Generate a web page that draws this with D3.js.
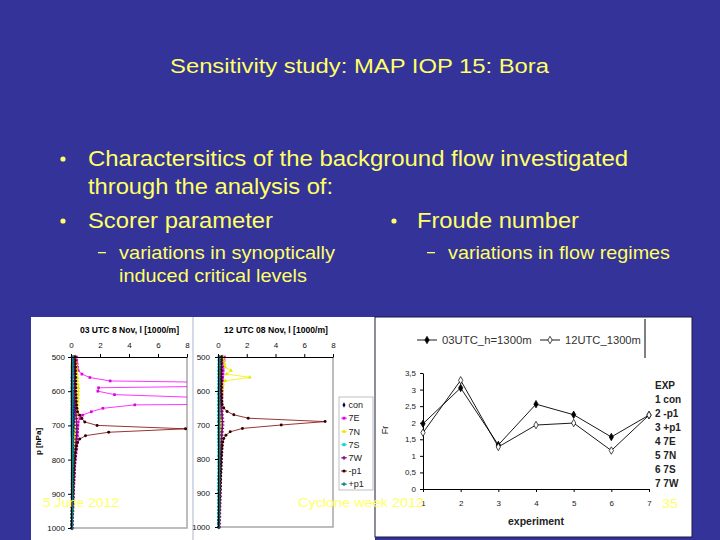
<!DOCTYPE html>
<html>
<head>
<meta charset="utf-8">
<script src="https://cdn.jsdelivr.net/npm/d3@7"></script>
<style>
  body { margin: 0; background: #333399; }
  svg { display: block; font-family: Arial, "Liberation Sans", sans-serif; }
</style>
</head>
<body>
<svg id="slide" width="720" height="540"></svg>
<script>
// pressure levels (hPa) shared by every profile series
const pLevels = [500, 510, 520, 530, 540, 550, 560, 570, 580, 590,
  600, 610, 620, 630, 640, 650, 660, 670, 680, 690,
  700, 710, 720, 730, 740, 750, 760, 770, 780, 790,
  800, 810, 820, 830, 840, 850, 860, 870, 880, 890,
  900, 910, 920, 930, 940, 950, 960, 970, 980, 990, 1000];

const seriesNames = ["con", "7E", "7N", "7S", "7W", "-p1", "+p1"];

// 03 UTC 8 Nov, l [1000/m]
const am_con = [0.28, 0.27, 0.26, 0.26, 0.25, 0.25, 0.24, 0.24, 0.23, 0.23,
  0.22, 0.22, 0.22, 0.21, 0.21, 0.21, 0.2, 0.2, 0.2, 0.2,
  0.19, 0.19, 0.19, 0.18, 0.18, 0.18, 0.17, 0.17, 0.17, 0.16,
  0.16, 0.16, 0.15, 0.15, 0.15, 0.14, 0.14, 0.13, 0.13, 0.12,
  0.12, 0.11, 0.11, 0.1, 0.1, 0.09, 0.09, 0.08, 0.08, 0.07, 0.07];
const am_7E = [0.38, 0.4, 0.42, 0.45, 0.5, 0.75, 1.3, 2.7, 20, 1.9,
  1.85, 3.0, 10, 40, 4.4, 2.2, 1.4, 0.8, 0.6, 0.5,
  0.48, 0.46, 0.45, 0.44, 0.43, 0.42, 0.4, 0.38, 0.35, 0.32,
  0.3, 0.28, 0.26, 0.25, 0.24, 0.22, 0.21, 0.2, 0.19, 0.18,
  0.17, 0.16, 0.15, 0.14, 0.13, 0.12, 0.11, 0.1, 0.09, 0.08, 0.08];
const am_7N = [0.3, 0.32, 0.35, 0.38, 0.4, 0.42, 0.45, 0.45, 0.48, 0.5,
  0.5, 0.5, 0.48, 0.48, 0.46, 0.45, 0.44, 0.42, 0.4, 0.38,
  0.36, 0.34, 0.32, 0.3, 0.28, 0.27, 0.26, 0.25, 0.24, 0.23,
  0.22, 0.21, 0.2, 0.2, 0.19, 0.18, 0.17, 0.16, 0.15, 0.14,
  0.13, 0.12, 0.12, 0.11, 0.1, 0.1, 0.09, 0.08, 0.08, 0.07, 0.07];
const am_7S = [0.08, 0.08, 0.07, 0.07, 0.07, 0.06, 0.06, 0.06, 0.06, 0.05,
  0.05, 0.05, 0.05, 0.05, 0.05, 0.05, 0.05, 0.05, 0.05, 0.05,
  0.05, 0.05, 0.05, 0.05, 0.06, 0.06, 0.06, 0.06, 0.06, 0.06,
  0.07, 0.07, 0.07, 0.07, 0.07, 0.07, 0.07, 0.07, 0.07, 0.07,
  0.07, 0.07, 0.07, 0.06, 0.06, 0.06, 0.06, 0.06, 0.06, 0.06, 0.06];
const am_7W = [0.2, 0.2, 0.21, 0.21, 0.22, 0.22, 0.23, 0.23, 0.24, 0.24,
  0.25, 0.25, 0.26, 0.27, 0.28, 0.3, 0.32, 0.34, 0.36, 0.38,
  0.4, 0.4, 0.4, 0.38, 0.36, 0.34, 0.32, 0.3, 0.28, 0.26,
  0.24, 0.22, 0.21, 0.2, 0.19, 0.18, 0.17, 0.16, 0.15, 0.14,
  0.13, 0.12, 0.11, 0.11, 0.1, 0.1, 0.09, 0.09, 0.08, 0.08, 0.07];
const am_m1 = [0.3, 0.3, 0.3, 0.31, 0.31, 0.31, 0.32, 0.32, 0.32, 0.33,
  0.33, 0.34, 0.35, 0.36, 0.38, 0.4, 0.45, 0.6, 0.75, 0.95,
  1.8, 7.9, 2.6, 1.0, 0.6, 0.45, 0.38, 0.34, 0.3, 0.28,
  0.26, 0.24, 0.22, 0.21, 0.2, 0.19, 0.18, 0.17, 0.16, 0.15,
  0.14, 0.13, 0.12, 0.11, 0.1, 0.09, 0.08, 0.07, 0.06, 0.05, 0.05];
const am_p1 = [0.12, 0.12, 0.12, 0.11, 0.11, 0.11, 0.1, 0.1, 0.1, 0.1,
  0.1, 0.1, 0.1, 0.1, 0.1, 0.1, 0.1, 0.1, 0.1, 0.1,
  0.1, 0.11, 0.11, 0.11, 0.12, 0.12, 0.12, 0.12, 0.12, 0.12,
  0.12, 0.12, 0.12, 0.11, 0.11, 0.11, 0.1, 0.1, 0.1, 0.1,
  0.09, 0.09, 0.09, 0.08, 0.08, 0.08, 0.07, 0.07, 0.07, 0.06, 0.06];

// 12 UTC 08 Nov, l [1000/m]
const pm_con = [0.3, 0.28, 0.27, 0.26, 0.25, 0.24, 0.23, 0.22, 0.22, 0.21,
  0.21, 0.2, 0.2, 0.2, 0.19, 0.19, 0.19, 0.18, 0.18, 0.18,
  0.17, 0.17, 0.17, 0.16, 0.16, 0.16, 0.15, 0.15, 0.15, 0.14,
  0.14, 0.14, 0.13, 0.13, 0.13, 0.12, 0.12, 0.12, 0.11, 0.11,
  0.1, 0.1, 0.09, 0.09, 0.08, 0.08, 0.07, 0.07, 0.06, 0.06, 0.05];
const pm_7E = [0.45, 0.42, 0.4, 0.38, 0.36, 0.35, 0.33, 0.32, 0.3, 0.3,
  0.29, 0.28, 0.28, 0.27, 0.27, 0.26, 0.26, 0.25, 0.25, 0.25,
  0.24, 0.24, 0.23, 0.23, 0.22, 0.22, 0.21, 0.21, 0.2, 0.2,
  0.19, 0.19, 0.18, 0.18, 0.17, 0.17, 0.16, 0.16, 0.15, 0.15,
  0.14, 0.14, 0.13, 0.12, 0.12, 0.11, 0.1, 0.1, 0.09, 0.08, 0.08];
const pm_7N = [0.35, 0.4, 0.45, 0.5, 0.9, 0.6, 2.2, 0.5, 0.35, 0.3,
  0.28, 0.26, 0.25, 0.24, 0.23, 0.22, 0.22, 0.21, 0.2, 0.2,
  0.19, 0.19, 0.18, 0.18, 0.17, 0.17, 0.16, 0.16, 0.15, 0.15,
  0.14, 0.14, 0.13, 0.13, 0.12, 0.12, 0.11, 0.11, 0.1, 0.1,
  0.09, 0.09, 0.08, 0.08, 0.07, 0.07, 0.06, 0.06, 0.05, 0.05, 0.05];
const pm_7S = [0.07, 0.07, 0.07, 0.06, 0.06, 0.06, 0.06, 0.06, 0.05, 0.05,
  0.05, 0.05, 0.05, 0.05, 0.05, 0.05, 0.05, 0.05, 0.05, 0.05,
  0.05, 0.05, 0.05, 0.05, 0.05, 0.05, 0.06, 0.06, 0.06, 0.06,
  0.06, 0.06, 0.06, 0.06, 0.06, 0.05, 0.05, 0.05, 0.05, 0.05,
  0.05, 0.05, 0.05, 0.05, 0.05, 0.04, 0.04, 0.04, 0.04, 0.04, 0.04];
const pm_7W = [0.25, 0.24, 0.24, 0.23, 0.23, 0.22, 0.22, 0.21, 0.21, 0.2,
  0.2, 0.2, 0.21, 0.22, 0.23, 0.24, 0.26, 0.28, 0.3, 0.32,
  0.32, 0.3, 0.28, 0.26, 0.24, 0.23, 0.22, 0.21, 0.2, 0.19,
  0.18, 0.18, 0.17, 0.17, 0.16, 0.16, 0.15, 0.15, 0.14, 0.14,
  0.13, 0.13, 0.12, 0.12, 0.11, 0.11, 0.1, 0.1, 0.09, 0.09, 0.08];
const pm_m1 = [0.22, 0.22, 0.22, 0.22, 0.23, 0.23, 0.23, 0.24, 0.24, 0.24,
  0.24, 0.25, 0.25, 0.26, 0.28, 0.4, 0.63, 1.1, 2.1, 7.45,
  4.4, 1.7, 0.85, 0.55, 0.4, 0.33, 0.3, 0.28, 0.26, 0.25,
  0.24, 0.23, 0.22, 0.21, 0.2, 0.19, 0.18, 0.17, 0.16, 0.15,
  0.14, 0.13, 0.12, 0.11, 0.1, 0.09, 0.08, 0.07, 0.06, 0.05, 0.05];
const pm_p1 = [0.1, 0.1, 0.1, 0.1, 0.09, 0.09, 0.09, 0.09, 0.09, 0.09,
  0.08, 0.08, 0.08, 0.08, 0.08, 0.08, 0.08, 0.08, 0.08, 0.08,
  0.08, 0.08, 0.08, 0.08, 0.08, 0.08, 0.09, 0.09, 0.09, 0.09,
  0.09, 0.09, 0.09, 0.09, 0.09, 0.08, 0.08, 0.08, 0.08, 0.08,
  0.07, 0.07, 0.07, 0.07, 0.06, 0.06, 0.06, 0.06, 0.05, 0.05, 0.05];

const lTicks = [0, 2, 4, 6, 8];
const pTicks = [500, 600, 700, 800, 900, 1000];

// Froude number per experiment
const experiments = [1, 2, 3, 4, 5, 6, 7];
const fr03 = [1.97, 3.05, 1.33, 2.56, 2.24, 1.57, 2.23];
const fr12 = [1.7, 3.28, 1.27, 1.93, 1.99, 1.16, 2.23];
const frTicks = [0, 0.5, 1, 1.5, 2, 2.5, 3, 3.5];
const expLabels = ["EXP", "1 con", "2 -p1", "3 +p1", "4 7E", "5 7N", "6 7S", "7 7W"];

const svg = d3.select("#slide");
const yellow = "#ffff66";

// slide background and stretched slide texts
svg.append("rect").attr("width", 720).attr("height", 540).attr("fill", "#333399");

function slideText(x, y, str, size, len, color) {
  svg.append("text")
    .attr("x", x).attr("y", y)
    .attr("font-size", size)
    .attr("fill", color || yellow)
    .attr("textLength", len)
    .attr("lengthAdjust", "spacingAndGlyphs")
    .text(str);
}
function bullet(x, y, r) {
  svg.append("circle").attr("cx", x).attr("cy", y).attr("r", r).attr("fill", yellow);
}
function dash(x, y) {
  svg.append("rect").attr("x", x).attr("y", y).attr("width", 8).attr("height", 1.3).attr("fill", yellow);
}

slideText(170, 73, "Sensitivity study: MAP IOP 15: Bora", 20, 379);
bullet(63, 159, 2.6);
slideText(88, 166, "Charactersitics of the background flow investigated", 22, 540);
slideText(88, 194, "through the analysis of:", 22, 245);
bullet(63, 221, 2.6);
slideText(88, 228, "Scorer parameter", 22, 185);
bullet(394, 221, 2.6);
slideText(417, 228, "Froude number", 22, 162);
dash(98, 252);
slideText(119, 259, "variations in synoptically", 18.5, 216);
slideText(119, 282, "induced critical levels", 18.5, 188);
dash(427, 252);
slideText(448, 259, "variations in flow regimes", 18.5, 222);

// white picture areas
svg.append("rect").attr("x", 31).attr("y", 317).attr("width", 344).attr("height", 223).attr("fill", "#fff");
svg.append("line").attr("x1", 193).attr("x2", 193).attr("y1", 317).attr("y2", 540)
  .attr("stroke", "#c8cce0").attr("stroke-width", 1.5);
svg.append("rect").attr("x", 375).attr("y", 317).attr("width", 317).attr("height", 220)
  .attr("fill", "#fff").attr("stroke", "#1a1a40").attr("stroke-width", 1);

// profile charts
const seriesStyle = [
  { color: "#000080", shape: d3.symbolDiamond, mark: "#000060" },
  { color: "#ff00ff", shape: d3.symbolSquare, mark: "#e000e0" },
  { color: "#f0f000", shape: d3.symbolTriangle, mark: "#e6e600" },
  { color: "#00e0e0", shape: d3.symbolCross, mark: "#00d0d0", rot: 45 },
  { color: "#800080", shape: d3.symbolCross, mark: "#800080" },
  { color: "#800000", shape: d3.symbolCircle, mark: "#300000" },
  { color: "#008080", shape: d3.symbolCross, mark: "#008080" },
];

const profileCharts = [
  { id: "am", title: "03 UTC 8 Nov, l [1000/m]", x0: 71, x1: 187, y0: 357, y1: 528,
    data: [am_con, am_7E, am_7N, am_7S, am_7W, am_m1, am_p1], yLabel: true, legend: false },
  { id: "pm", title: "12 UTC 08 Nov, l [1000/m]", x0: 218, x1: 333, y0: 357, y1: 527,
    data: [pm_con, pm_7E, pm_7N, pm_7S, pm_7W, pm_m1, pm_p1], yLabel: false, legend: true },
];

profileCharts.forEach((c) => {
  const x = d3.scaleLinear().domain([0, 8]).range([c.x0, c.x1]);
  const y = d3.scaleLinear().domain([500, 1000]).range([c.y0, c.y1]);
  const g = svg.append("g");

  g.append("clipPath").attr("id", "clip-" + c.id)
    .append("rect").attr("x", c.x0 - 3).attr("y", c.y0 - 3)
    .attr("width", c.x1 - c.x0 + 3).attr("height", c.y1 - c.y0 + 6);

  // plot area frame (grey right/bottom)
  g.append("path")
    .attr("d", `M${c.x1},${c.y0}V${c.y1}H${c.x0}`)
    .attr("fill", "none").attr("stroke", "#a8a8a8").attr("stroke-width", 1.5);

  const plot = g.append("g").attr("clip-path", `url(#clip-${c.id})`);
  c.data.forEach((vals, si) => {
    const st = seriesStyle[si];
    const pts = pLevels.map((p, i) => [vals[i], p]);
    plot.append("path")
      .datum(pts)
      .attr("fill", "none")
      .attr("stroke", st.color)
      .attr("stroke-width", 0.8)
      .attr("d", d3.line().x((d) => x(d[0])).y((d) => y(d[1])));
    plot.selectAll(null)
      .data(pts)
      .join("path")
      .attr("transform", (d) => `translate(${x(d[0])},${y(d[1])}) rotate(${st.rot || 0})`)
      .attr("d", d3.symbol().type(st.shape).size(7))
      .attr("fill", st.mark);
  });

  g.append("g")
    .attr("transform", `translate(0,${c.y0})`)
    .call(d3.axisTop(x).tickValues(lTicks).tickSize(3).tickSizeOuter(0).tickPadding(6))
    .call((a) => a.select(".domain").attr("stroke", "#000"))
    .call((a) => a.selectAll("text").attr("font-size", 8).attr("font-family", "Arial, Liberation Sans").attr("fill", "#111"));

  g.append("g")
    .attr("transform", `translate(${c.x0},0)`)
    .call(d3.axisLeft(y).tickValues(pTicks).tickSize(3).tickSizeOuter(0).tickPadding(c.yLabel ? 3 : 5)
      .tickFormat(d3.format("d")))
    .call((a) => a.select(".domain").attr("stroke", "#000"))
    .call((a) => a.selectAll("text").attr("font-size", 8).attr("font-family", "Arial, Liberation Sans").attr("fill", "#111"));

  g.append("text")
    .attr("x", (c.x0 + c.x1) / 2 + 0.5).attr("y", 333)
    .attr("text-anchor", "middle")
    .attr("font-size", 8.6).attr("font-weight", "bold")
    .text(c.title);

  if (c.yLabel) {
    g.append("text")
      .attr("transform", `translate(41,${(c.y0 + c.y1) / 2 - 1}) rotate(-90)`)
      .attr("text-anchor", "middle")
      .attr("font-size", 8).attr("font-weight", "bold")
      .text("p [hPa]");
  }

  if (c.legend) {
    const lg = g.append("g");
    lg.append("rect").attr("x", 339).attr("y", 397).attr("width", 34).attr("height", 93)
      .attr("fill", "#fff").attr("stroke", "#b0b0b0").attr("stroke-width", 0.8);
    seriesNames.forEach((name, i) => {
      const st = seriesStyle[i];
      const ly = 405 + i * 13.2;
      if (i > 0) {
        lg.append("line").attr("x1", 341).attr("x2", 347).attr("y1", ly).attr("y2", ly)
          .attr("stroke", st.color).attr("stroke-width", 0.8);
      }
      lg.append("path")
        .attr("transform", `translate(344,${ly}) rotate(${st.rot || 0})`)
        .attr("d", d3.symbol().type(st.shape).size(8))
        .attr("fill", st.mark);
      lg.append("text").attr("x", 348.5).attr("y", ly + 3.2)
        .attr("font-size", 9).attr("fill", "#222").text(name);
    });
  }
});

// Froude number chart
const fx = d3.scaleLinear().domain([1, 7]).range([423, 649]);
const fy = d3.scaleLinear().domain([0, 3.5]).range([489, 373]);
const fg = svg.append("g");

fg.append("g")
  .attr("transform", "translate(423,0)")
  .call(d3.axisLeft(fy).tickValues(frTicks).tickSize(3).tickSizeOuter(0).tickPadding(4)
    .tickFormat((d) => String(d).replace(".", ",")))
  .call((a) => a.select(".domain").attr("stroke", "#000"))
  .call((a) => a.selectAll("text").attr("font-size", 8).attr("font-family", "Arial, Liberation Sans").attr("fill", "#222"));

fg.append("g")
  .attr("transform", "translate(0,489)")
  .call(d3.axisBottom(fx).tickValues(experiments).tickSize(3).tickSizeOuter(0).tickPadding(8)
    .tickFormat(d3.format("d")))
  .call((a) => a.select(".domain").attr("stroke", "#000"))
  .call((a) => a.selectAll("text").attr("font-size", 8).attr("font-family", "Arial, Liberation Sans").attr("fill", "#222"));

const frSeries = [
  { vals: fr03, fill: "#000" },
  { vals: fr12, fill: "#fff" },
];
frSeries.forEach((s) => {
  const pts = experiments.map((e, i) => [e, s.vals[i]]);
  fg.append("path").datum(pts)
    .attr("fill", "none").attr("stroke", "#000").attr("stroke-width", 0.9)
    .attr("d", d3.line().x((d) => fx(d[0])).y((d) => fy(d[1])));
  fg.selectAll(null).data(pts).join("path")
    .attr("transform", (d) => `translate(${fx(d[0])},${fy(d[1])})`)
    .attr("d", d3.symbol().type(d3.symbolDiamond).size(16))
    .attr("fill", s.fill).attr("stroke", "#000").attr("stroke-width", 0.7);
});

fg.append("text")
  .attr("transform", "translate(388,430) rotate(-90)")
  .attr("text-anchor", "middle").attr("font-size", 9).attr("fill", "#222")
  .text("Fr");

fg.append("text").attr("x", 536).attr("y", 525).attr("text-anchor", "middle")
  .attr("font-size", 10.5).attr("font-weight", "bold").attr("fill", "#222").text("experiment");

expLabels.forEach((t, i) => {
  fg.append("text").attr("x", 655).attr("y", 389 + i * 14)
    .attr("font-size", 10).attr("font-weight", "bold").attr("fill", "#222").text(t);
});

// legend of Froude chart
const frLegend = [
  { label: "03UTC_h=1300m", x: 417, fill: "#000" },
  { label: "12UTC_1300m", x: 540, fill: "#fff" },
];
frLegend.forEach((l) => {
  fg.append("line").attr("x1", l.x).attr("x2", l.x + 20).attr("y1", 340).attr("y2", 340)
    .attr("stroke", "#000").attr("stroke-width", 0.9);
  fg.append("path").attr("transform", `translate(${l.x + 10},340)`)
    .attr("d", d3.symbol().type(d3.symbolDiamond).size(16))
    .attr("fill", l.fill).attr("stroke", "#000").attr("stroke-width", 0.7);
  fg.append("text").attr("x", l.x + 25).attr("y", 344)
    .attr("font-size", 11).attr("fill", "#333")
    .attr("textLength", l.label.length * 6.9).attr("lengthAdjust", "spacingAndGlyphs")
    .text(l.label);
});
fg.append("line").attr("x1", 645).attr("x2", 645).attr("y1", 319).attr("y2", 358)
  .attr("stroke", "#000").attr("stroke-width", 1);

// footer texts over the pictures
slideText(43, 507, "5 June 2012", 13.5, 76);
slideText(298, 507, "Cyclone week 2012", 13.5, 126);
slideText(662, 508, "35", 13.5, 16);
</script>
</body>
</html>
